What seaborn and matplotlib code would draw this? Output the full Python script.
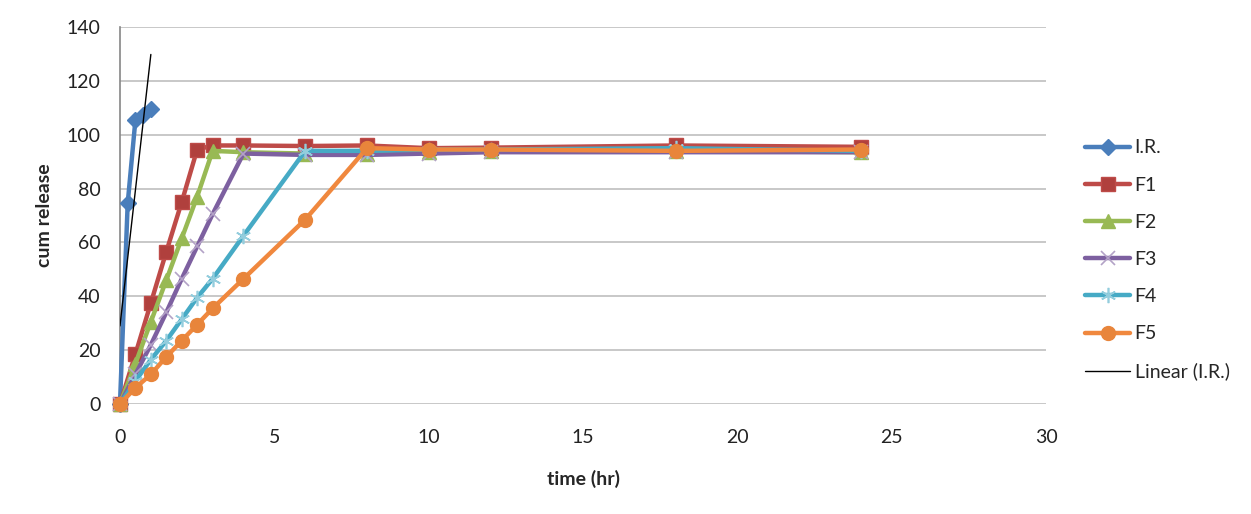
import numpy as np
import pandas as pd
import matplotlib
matplotlib.use('Agg')
import matplotlib.pyplot as plt
import seaborn as sns

sns.set_style('white')
plt.rcParams['font.family'] = ['Lato', 'DejaVu Sans']

# --- data ---
ir_time = [0, 0.25, 0.5, 0.75, 1]
ir_release = [0, 74.5, 105.5, 107.5, 109.5]

time_hr = [0, 0.5, 1, 1.5, 2, 2.5, 3, 4, 6, 8, 10, 12, 18, 24]
f1 = [0, 18.5, 37.5, 56.5, 75, 94.5, 96, 96, 95.8, 96, 95, 95.2, 96, 95.5]
f2 = [0, 15, 30.5, 46, 61.5, 77, 94, 93.5, 93, 93, 93.5, 94, 94, 93.5]
f3 = [0, 11, 22, 34, 46.5, 58.5, 70.5, 93, 92.5, 92.5, 93, 93.5, 93.5, 93.5]
f4 = [0, 8.5, 16.5, 23.5, 31.5, 39.5, 46.5, 62.5, 94, 94, 94.5, 94.5, 95, 94]
f5 = [0, 6, 11, 17.5, 23.5, 29.5, 35.5, 46.5, 68.5, 95, 94.5, 94.5, 94, 94.5]

series_names = ['F1', 'F2', 'F3', 'F4', 'F5']
series_values = [f1, f2, f3, f4, f5]

# Excel 2007 style colours / markers
ir_style = dict(color='#4A7EBB', marker='D', ms=8, mec='#4A7EBB', mfc='#4A7EBB', mew=1)
styles = {
    'F1': dict(color='#BE4B48', marker='s', ms=10, mec='#BE4B48', mfc='#B0403D', mew=1),
    'F2': dict(color='#98B954', marker='^', ms=10, mec='#98B954', mfc='#98B954', mew=1),
    'F3': dict(color='#7D60A0', marker='x', ms=10, mec='#B3A2C7', mfc='none', mew=1.2),
    'F4': dict(color='#46AAC5', marker=(6, 2, 0), ms=11, mec='#93CDDD', mfc='none', mew=1.2),
    'F5': dict(color='#F0883E', marker='o', ms=10, mec='#E8853B', mfc='#E8853B', mew=1),
}

fig = plt.figure(figsize=(12.51, 5.14), dpi=100)
ax = fig.add_axes([0.0959, 0.214, 0.7405, 0.7335])

ir_df = pd.DataFrame({'time': ir_time, 'release': ir_release})
sns.lineplot(data=ir_df, x='time', y='release', ax=ax, lw=3.2, label='I.R.',
             clip_on=False, zorder=3, **ir_style)

for name, vals in zip(series_names, series_values):
    df = pd.DataFrame({'time': time_hr, 'release': vals})
    sns.lineplot(data=df, x='time', y='release', ax=ax, lw=3.2, label=name,
                 clip_on=False, zorder=3, **styles[name])

# linear trendline for I.R.
slope, intercept = np.polyfit(ir_time, ir_release, 1)
trend_x = np.array([min(ir_time), max(ir_time)])
trend_df = pd.DataFrame({'time': trend_x, 'release': slope * trend_x + intercept})
sns.lineplot(data=trend_df, x='time', y='release', ax=ax, color='black', lw=1.0,
             label='Linear (I.R.)', zorder=6)

ax.set_xlim(0, 30)
ax.set_ylim(0, 140)
ax.set_xticks(range(0, 31, 5))
ax.set_yticks(range(0, 141, 20))
ax.yaxis.grid(True, color='#BFBFBF', lw=1.2)
ax.xaxis.grid(False)
ax.set_axisbelow(True)
for side in ['top', 'right', 'bottom']:
    ax.spines[side].set_visible(False)
ax.spines['left'].set_color('#868686')
ax.spines['left'].set_linewidth(1.2)
ax.tick_params(axis='x', labelsize=14, colors='#222222', length=0, pad=18)
ax.tick_params(axis='y', labelsize=14, colors='#222222', length=0, pad=14)

ax.set_xlabel('time (hr)', fontsize=14, fontweight='bold', labelpad=17)
ax.set_ylabel('cum release', fontsize=14, fontweight='bold', labelpad=10)

handles, labels = ax.get_legend_handles_labels()
ax.legend(handles, labels, loc='center left', bbox_to_anchor=(1.042, 0.382),
          frameon=False, fontsize=14, handlelength=2.3, labelspacing=1.04,
          handletextpad=0.24, borderpad=0, borderaxespad=0)

fig.savefig('out.png', dpi=100)
